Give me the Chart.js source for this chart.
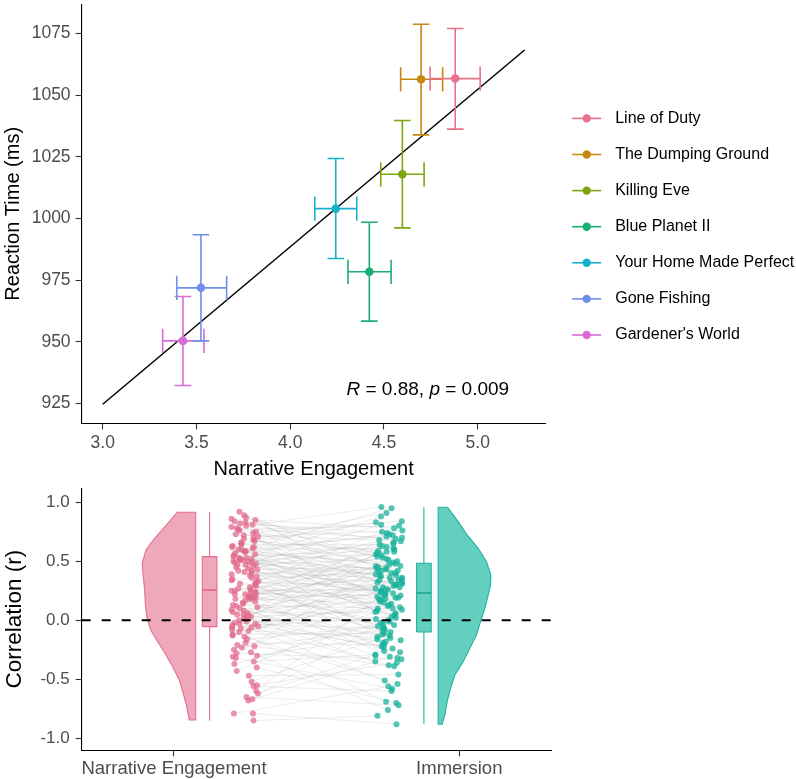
<!DOCTYPE html>
<html>
<head>
<meta charset="utf-8">
<script src="https://cdn.jsdelivr.net/npm/chart.js@4.4.1/dist/chart.umd.min.js"></script>
<style>
html,body{margin:0;padding:0;background:#fff;width:796px;height:779px;overflow:hidden;}
#top{position:absolute;left:0;top:0;}
#bot{position:absolute;left:0;top:484px;}
</style>
</head>
<body>
<canvas id="top" width="796" height="484"></canvas>
<canvas id="bot" width="796" height="295"></canvas>
<script>
// ---------------- DATA: top panel ----------------
const shows = ['Line of Duty','The Dumping Ground','Killing Eve','Blue Planet II','Your Home Made Perfect','Gone Fishing',"Gardener's World"];
const engagement     = [4.880, 4.698, 4.598, 4.422, 4.243, 3.524, 3.428];
const engagementLow  = [4.746, 4.589, 4.483, 4.308, 4.131, 3.395, 3.320];
const engagementHigh = [5.013, 4.813, 4.714, 4.538, 4.355, 3.661, 3.540];
const reactionTime     = [1056.7, 1056.4, 1017.9, 978.4, 1004.0, 971.9, 950.4];
const reactionTimeLow  = [1036.2, 1033.9, 996.2, 958.4, 983.8, 950.4, 932.3];
const reactionTimeHigh = [1077.0, 1078.7, 1039.7, 998.5, 1024.3, 993.4, 968.4];
const fitEngagement = [3.0, 5.25];
const fitReaction   = [924.7, 1068.3];
const corrR = 0.88;
const corrP = 0.009;
const topXTicks = [3.0, 3.5, 4.0, 4.5, 5.0];
const topYTicks = [925, 950, 975, 1000, 1025, 1050, 1075];

// ---------------- DATA: bottom panel ----------------
const conditions = ['Narrative Engagement', 'Immersion'];
const corrTicks = [-1.0, -0.5, 0.0, 0.5, 1.0];
const narrativeR = [-0.85,-0.79,-0.79,-0.68,-0.67,-0.65,-0.62,-0.60,-0.56,-0.55,-0.52,-0.47,-0.43,-0.40,-0.37,-0.35,-0.32,-0.31,-0.30,-0.28,-0.27,-0.25,-0.23,-0.22,-0.21,-0.19,-0.16,-0.14,-0.13,-0.12,
-0.10,-0.09,-0.08,-0.07,-0.06,-0.06,-0.05,-0.04,-0.03,-0.03,-0.02,-0.01,0.00,0.01,0.02,0.03,0.04,0.05,0.05,0.06,0.07,0.08,0.09,0.10,0.11,0.12,0.13,0.14,0.15,0.16,
0.17,0.18,0.18,0.19,0.19,0.20,0.20,0.21,0.22,0.22,0.23,0.24,0.24,0.25,0.25,0.26,0.27,0.28,0.29,0.30,0.31,0.32,0.32,0.33,0.34,0.35,0.36,0.37,0.38,0.39,
0.40,0.41,0.42,0.42,0.43,0.44,0.45,0.46,0.47,0.47,0.48,0.49,0.49,0.50,0.50,0.51,0.51,0.52,0.52,0.53,0.53,0.54,0.55,0.56,0.57,0.58,0.58,0.59,0.60,0.60,
0.61,0.62,0.62,0.63,0.64,0.65,0.66,0.67,0.68,0.69,0.70,0.71,0.72,0.73,0.74,0.75,0.76,0.77,0.78,0.79,0.80,0.81,0.82,0.83,0.84,0.85,0.86,0.87,0.89,0.92];
const immersionR = [-0.81,-0.56,-0.88,0.05,-0.31,-0.72,-0.24,0.30,-0.60,-0.36,-0.16,-0.46,0.12,-0.70,-0.02,-0.29,-0.58,0.44,-0.13,-0.33,-0.76,0.19,-0.08,-0.39,0.62,-0.21,-0.05,-0.54,0.26,-0.11,
-0.69,0.21,-0.15,0.40,-0.38,0.03,-0.22,0.57,-0.07,0.13,-0.51,0.33,0.00,-0.27,0.46,0.09,-0.12,0.24,-0.35,0.71,0.06,-0.19,0.16,-0.04,0.36,-0.30,0.10,0.50,-0.14,0.28,
-0.32,0.14,0.42,-0.10,0.22,0.58,0.01,0.30,-0.23,0.37,0.18,0.65,-0.03,0.26,0.48,0.08,0.20,0.34,-0.17,0.53,0.11,0.29,0.75,0.15,0.41,-0.06,0.23,0.60,0.32,0.44,
0.36,-0.26,0.63,0.21,0.45,0.04,0.81,0.27,0.52,-0.09,0.70,0.38,0.17,0.56,0.31,0.66,0.02,0.43,0.24,0.88,0.39,0.59,0.19,0.49,0.73,0.34,0.10,0.47,0.61,0.22,
0.72,0.40,0.95,-0.18,0.64,0.83,0.28,0.58,0.91,0.46,0.07,0.76,0.68,0.35,0.84,0.54,0.18,0.80,0.69,0.42,0.96,-0.01,0.74,0.51,0.67,0.25,0.78,0.55,0.32,0.38];
// half-violin outlines (correlation level, density half-width)
const narrativeDensityR = [0.915,0.793,0.680,0.596,0.483,0.369,0.257,0.144,0.031,-0.082,-0.167,-0.280,-0.393,-0.506,-0.619,-0.732,-0.845];
const narrativeDensityW = [0.0645,0.1076,0.1486,0.1742,0.1872,0.1837,0.1788,0.1767,0.1717,0.1577,0.1367,0.1076,0.0806,0.0575,0.0435,0.0315,0.0224];
const immersionDensityR = [0.958,0.836,0.723,0.610,0.497,0.384,0.299,0.214,0.102,-0.012,-0.124,-0.237,-0.351,-0.464,-0.576,-0.690,-0.803,-0.881];
const immersionDensityW = [0.033,0.070,0.1016,0.1402,0.1696,0.1847,0.1837,0.1753,0.1637,0.1486,0.1346,0.1111,0.0876,0.0585,0.0435,0.0315,0.0235,0.014];
// box-plot summaries [Narrative Engagement, Immersion]
const boxMin    = [-0.851, -0.876];
const boxQ1     = [-0.054, -0.099];
const boxMedian = [0.257, 0.231];
const boxQ3     = [0.539, 0.483];
const boxMax    = [0.915, 0.958];

// ---------------- STYLE / LAYOUT ----------------
const FONT = '"Liberation Sans", Arial, Helvetica, sans-serif';
const showColors = ['#E8718D','#C8870F','#7DA50E','#1AAE72','#18B1CB','#6E90EA','#D96BD9'];
const condFill   = ['rgba(226,104,138,0.58)','rgba(24,184,160,0.68)'];
const condLine   = ['#E56F8E','#20B29E'];
const condMedian = ['#E0607F','#16A38E'];
const condPoint  = ['rgba(226,104,138,0.72)','rgba(24,178,155,0.75)'];

function fixAxis(size, horizontal) {
  return function (scale) {
    if (horizontal) scale.height = size; else scale.width = size;
    scale.paddingTop = 0; scale.paddingBottom = 0; scale.paddingLeft = 0; scale.paddingRight = 0;
  };
}
function setTicks(values) {
  return function (scale) { scale.ticks = values.map(v => ({value: v})); };
}
const axisGrid = {display: true, drawOnChartArea: false, drawTicks: true, tickLength: 6, tickColor: '#333', tickWidth: 1.1};
const axisBorder = {display: true, color: '#000', width: 1.1};

// ---------------- TOP CHART ----------------
const capX = 0.0443, capY = 4.9;
const errorDatasets = shows.map((name, i) => {
  const x = engagement[i], y = reactionTime[i];
  const lo = engagementLow[i], hi = engagementHigh[i];
  const ylo = reactionTimeLow[i], yhi = reactionTimeHigh[i];
  return {
    label: name,
    data: [
      {x: lo, y: y}, {x: hi, y: y}, {x: x, y: null},
      {x: lo, y: y - capY}, {x: lo, y: y + capY}, {x: x, y: null},
      {x: hi, y: y - capY}, {x: hi, y: y + capY}, {x: x, y: null},
      {x: x, y: ylo}, {x: x, y: yhi}, {x: x, y: null},
      {x: x - capX, y: ylo}, {x: x + capX, y: ylo}, {x: x, y: null},
      {x: x - capX, y: yhi}, {x: x + capX, y: yhi}
    ],
    showLine: true, spanGaps: false, borderColor: showColors[i], borderWidth: 1.6,
    pointRadius: 0, fill: false, order: 5
  };
});

const legendPlugin = {
  id: 'showLegend',
  afterDraw(chart) {
    const ctx = chart.ctx;
    const x0 = chart.chartArea.right + 26.5;
    ctx.save();
    shows.forEach((name, i) => {
      const y = 118.4 + 36.1 * i;
      ctx.strokeStyle = showColors[i];
      ctx.lineWidth = 1.6;
      ctx.beginPath(); ctx.moveTo(x0, y); ctx.lineTo(x0 + 29, y); ctx.stroke();
      ctx.fillStyle = showColors[i];
      ctx.beginPath(); ctx.arc(x0 + 14.5, y, 4.2, 0, Math.PI * 2); ctx.fill();
      ctx.fillStyle = '#000';
      ctx.font = '16px ' + FONT;
      ctx.textAlign = 'left'; ctx.textBaseline = 'middle';
      ctx.fillText(name, x0 + 43, y);
    });
    ctx.restore();
  }
};
const corrPlugin = {
  id: 'corrLabel',
  afterDatasetsDraw(chart) {
    const {ctx, scales} = chart;
    const px = scales.x.getPixelForValue(4.30);
    const py = scales.y.getPixelForValue(930.6);
    const parts = [['R', true], [' = ' + corrR.toFixed(2) + ', ', false], ['p', true], [' = ' + corrP.toFixed(3), false]];
    ctx.save();
    ctx.fillStyle = '#000'; ctx.textAlign = 'left'; ctx.textBaseline = 'middle';
    let cx = px;
    parts.forEach(([t, it]) => {
      ctx.font = (it ? 'italic ' : '') + '19px ' + FONT;
      ctx.fillText(t, cx, py);
      cx += ctx.measureText(t).width;
    });
    ctx.restore();
  }
};

new Chart(document.getElementById('top'), {
  type: 'scatter',
  data: {
    datasets: [
      {
        label: 'means',
        data: shows.map((_, i) => ({x: engagement[i], y: reactionTime[i]})),
        pointRadius: 4.3, pointBackgroundColor: showColors, pointBorderWidth: 0,
        pointBorderColor: showColors, order: 1
      },
      ...errorDatasets,
      {
        label: 'fit',
        data: fitEngagement.map((x, i) => ({x: x, y: fitReaction[i]})),
        showLine: true, borderColor: '#000', borderWidth: 1.5, pointRadius: 0, order: 10
      }
    ]
  },
  options: {
    responsive: false, animation: false, events: [], devicePixelRatio: 1,
    layout: {padding: {left: 0, top: 0, right: 250.3, bottom: 0}},
    plugins: {legend: {display: false}, tooltip: {enabled: false}},
    scales: {
      x: {
        type: 'linear', position: 'bottom', min: 2.8875, max: 5.3625,
        afterBuildTicks: setTicks(topXTicks), afterFit: fixAxis(60.7, true),
        ticks: {callback: v => Number(v).toFixed(1), font: {family: FONT, size: 17.5}, color: '#4D4D4D', padding: 3, maxRotation: 0, autoSkip: false},
        grid: axisGrid, border: axisBorder,
        title: {display: true, text: 'Narrative Engagement', color: '#000', font: {family: FONT, size: 20, lineHeight: 1.2}, padding: {top: 0, bottom: 3}}
      },
      y: {
        type: 'linear', position: 'left', min: 917.0, max: 1086.8,
        afterBuildTicks: setTicks(topYTicks), afterFit: fixAxis(81.6, false),
        ticks: {callback: v => String(v), font: {family: FONT, size: 17.5}, color: '#4D4D4D', padding: 5, autoSkip: false},
        grid: axisGrid, border: axisBorder,
        title: {display: true, text: 'Reaction Time (ms)', color: '#000', font: {family: FONT, size: 20, lineHeight: 1}, padding: {top: 3, bottom: 0}}
      }
    }
  },
  plugins: [legendPlugin, corrPlugin]
});

// ---------------- BOTTOM CHART ----------------
const xCond = [1, 2];
const violinSide = [1.076, 1.926];
const boxCenter = [1.125, 1.876];
const pointCenter = [1.248, 1.753];
const boxHalf = 0.0256, jitterWidth = 0.096;
// deterministic hash jitter (horizontal placement only)
function jitter(i, seed) {
  const s = Math.sin(i * 127.1 + seed * 311.7) * 43758.5453;
  return (s - Math.floor(s)) - 0.5;
}
const neX = narrativeR.map((_, i) => pointCenter[0] + jitter(i, 1) * jitterWidth);
const imX = immersionR.map((_, i) => pointCenter[1] + jitter(i, 2) * jitterWidth);

function violinData(side, levels, widths, dir) {
  const top = levels[0], bottom = levels[levels.length - 1];
  const pts = [{x: side, y: top}];
  levels.forEach((r, k) => pts.push({x: side + dir * widths[k], y: r}));
  pts.push({x: side, y: bottom});
  pts.push({x: side, y: top});
  return pts;
}
function boxDatasets(k) {
  const c = boxCenter[k];
  return [
    {
      label: conditions[k] + ' box',
      data: [{x: c - boxHalf, y: boxQ1[k]}, {x: c + boxHalf, y: boxQ1[k]}, {x: c + boxHalf, y: boxQ3[k]}, {x: c - boxHalf, y: boxQ3[k]}, {x: c - boxHalf, y: boxQ1[k]}],
      showLine: true, fill: 'shape', backgroundColor: condFill[k], borderColor: condLine[k], borderWidth: 1.1, pointRadius: 0, order: 7
    },
    {
      label: conditions[k] + ' median',
      data: [{x: c - boxHalf, y: boxMedian[k]}, {x: c + boxHalf, y: boxMedian[k]}],
      showLine: true, borderColor: condMedian[k], borderWidth: 1.6, pointRadius: 0, order: 6
    },
    {
      label: conditions[k] + ' whiskers',
      data: [{x: c, y: boxQ3[k]}, {x: c, y: boxMax[k]}, {x: c, y: null}, {x: c, y: boxQ1[k]}, {x: c, y: boxMin[k]}],
      showLine: true, spanGaps: false, borderColor: condLine[k], borderWidth: 1.1, pointRadius: 0, order: 7
    }
  ];
}
const pairLines = [];
narrativeR.forEach((v, i) => {
  pairLines.push({x: neX[i], y: v}, {x: imX[i], y: immersionR[i]}, {x: 1.5, y: null});
});

new Chart(document.getElementById('bot'), {
  type: 'scatter',
  data: {
    datasets: [
      {
        label: 'zero',
        data: [{x: 0.6765, y: 0}, {x: 2.324, y: 0}],
        showLine: true, borderColor: '#000', borderWidth: 2, borderDash: [9, 11], pointRadius: 0, order: 0
      },
      {
        label: conditions[0] + ' points',
        data: narrativeR.map((v, i) => ({x: neX[i], y: v})),
        pointRadius: 3, pointBackgroundColor: condPoint[0], pointBorderWidth: 0, order: 3
      },
      {
        label: conditions[1] + ' points',
        data: immersionR.map((v, i) => ({x: imX[i], y: v})),
        pointRadius: 3, pointBackgroundColor: condPoint[1], pointBorderWidth: 0, order: 3
      },
      ...boxDatasets(0),
      ...boxDatasets(1),
      {
        label: conditions[0] + ' violin',
        data: violinData(violinSide[0], narrativeDensityR, narrativeDensityW, -1),
        showLine: true, fill: 'shape', backgroundColor: condFill[0], borderColor: condLine[0], borderWidth: 1.1, pointRadius: 0, order: 8
      },
      {
        label: conditions[1] + ' violin',
        data: violinData(violinSide[1], immersionDensityR, immersionDensityW, 1),
        showLine: true, fill: 'shape', backgroundColor: condFill[1], borderColor: condLine[1], borderWidth: 1.1, pointRadius: 0, order: 8
      },
      {
        label: 'pairs',
        data: pairLines,
        showLine: true, spanGaps: false, borderColor: 'rgba(150,150,150,0.3)', borderWidth: 0.6, pointRadius: 0, order: 10
      }
    ]
  },
  options: {
    responsive: false, animation: false, events: [], devicePixelRatio: 1,
    layout: {padding: {left: 0, top: 4.1, right: 244.3, bottom: 0}},
    plugins: {legend: {display: false}, tooltip: {enabled: false}},
    scales: {
      x: {
        type: 'linear', position: 'bottom', min: 0.6765, max: 2.324,
        afterBuildTicks: setTicks(xCond), afterFit: fixAxis(28.7, true),
        ticks: {callback: (v, i) => conditions[i], font: {family: FONT, size: 18.5}, color: '#4D4D4D', padding: 2, maxRotation: 0, autoSkip: false},
        grid: axisGrid, border: axisBorder,
        title: {display: false}
      },
      y: {
        type: 'linear', position: 'left', min: -1.1017, max: 1.12,
        afterBuildTicks: setTicks(corrTicks), afterFit: fixAxis(81.7, false),
        ticks: {callback: v => Number(v).toFixed(1), font: {family: FONT, size: 17}, color: '#4D4D4D', padding: 6, autoSkip: false},
        grid: axisGrid, border: axisBorder,
        title: {display: true, text: 'Correlation (r)', color: '#000', font: {family: FONT, size: 22.5, lineHeight: 1}, padding: {top: 3.5, bottom: 0}}
      }
    }
  }
});
</script>
</body>
</html>
